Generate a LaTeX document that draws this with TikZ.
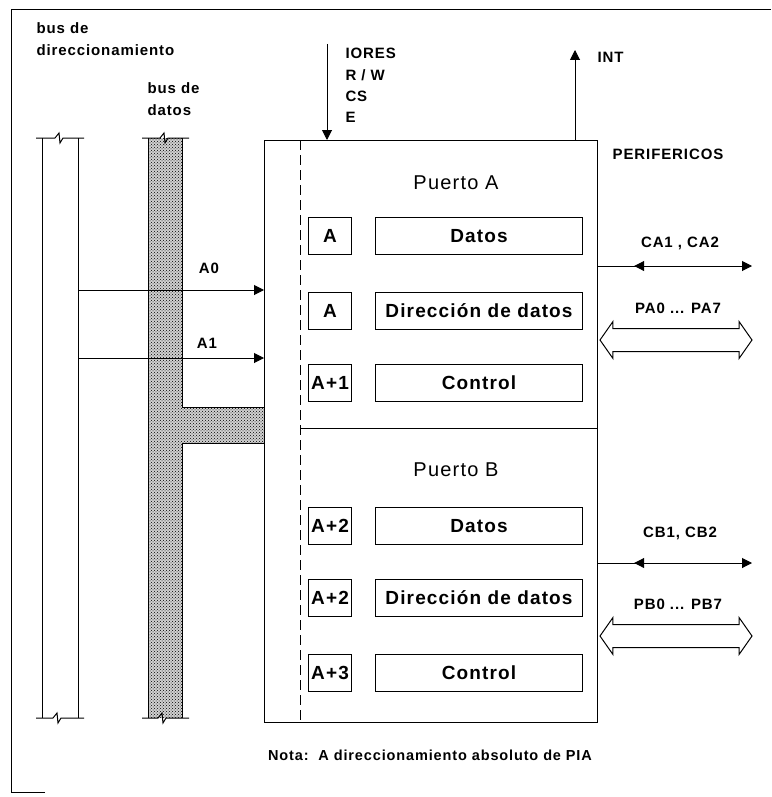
\documentclass[tikz,border=0pt]{standalone}
\usepackage{fontspec}
\setmainfont{Liberation Sans}
\newfontfamily\scanfont[LetterSpace=6]{Liberation Sans}
\usetikzlibrary{arrows.meta,patterns,shapes.arrows,decorations.markings,positioning}

\tikzset{
  regbox/.style={draw, minimum width=43, minimum height=37, inner sep=0, font=\scanfont\bfseries\fontsize{19}{19}\selectfont},
  databox/.style={draw, minimum width=207, minimum height=37, inner sep=0, font=\scanfont\bfseries\fontsize{19}{19}\selectfont},
  lbl/.style={inner sep=0, font=\scanfont\bfseries\fontsize{15}{22}\selectfont},
  portbus/.style={double arrow, draw, minimum height=152, inner xsep=0, inner ysep=11, double arrow head extend=7, double arrow tip angle=110},
  sigline/.style={-{Triangle[length=10,width=10]}, postaction={decorate},
    decoration={markings, mark=at position 0.3 with {\arrow{Triangle[reversed,length=10,width=10]}}}},
}
% break mark on a bus end
\newcommand\busbreak[4]{\draw (#1,#3) -- (#4-3,#3) -- (#4+1,#3-5) -- (#4+2,#3+5) -- (#4+5,#3) -- (#2,#3);}

\begin{document}
\begin{tikzpicture}[x=1pt, y=-1pt, line width=1pt, >={Triangle[length=10,width=10]}]
  \useasboundingbox (0,0) rectangle (771,797);
  % frame
  \draw (45,792) -- (11,792) -- (11,10) -- (771,10);
  \node[lbl, anchor=north west, align=left] (busdir) at (36,22) {bus de\\direccionamiento};
  \node[lbl, anchor=north west, align=left] (busdat) at (147,82) {bus de\\datos};
  % address bus
  \draw (42,138) -- (42,718); \draw (78,138) -- (78,718);
  \busbreak{36}{84}{138}{58}
  \busbreak{36}{84}{718}{56}
  % data bus
  \fill[black!18] (148,138) rectangle (182,718) (182,407) rectangle (264,443);
  \fill[pattern=crosshatch dots, pattern color=black] (148,138) rectangle (182,718) (182,407) rectangle (264,443);
  \draw (148,138) -- (148,718);
  \draw (182,138) -- (182,407) -- (264,407);
  \draw (264,443) -- (182,443) -- (182,718);
  \busbreak{142}{189}{138}{163}
  \busbreak{142}{189}{718}{161}
  % PIA
  \node[draw, minimum width=333, minimum height=582, anchor=north west, inner sep=0] (pia) at (264,140) {};
  \draw[dash pattern=on 10pt off 5pt] ([xshift=36]pia.north west) -- ([xshift=36]pia.south west);
  \draw ([xshift=36]pia.west |- 0,428) -- (pia.east |- 0,428);
  \node[font=\scanfont\fontsize{20}{20}\selectfont] (porta) at (456,183) {Puerto A};
  \node[font=\scanfont\fontsize{20}{20}\selectfont] (portb) at (456,470) {Puerto B};
  \foreach \y/\adr/\reg/\nm in {236/A/Datos/ra1, 311/A/Dirección de datos/ra2, 383/A+1/Control/ra3,
      526/A+2/Datos/rb1, 598/A+2/Dirección de datos/rb2, 673/A+3/Control/rb3} {
    \node[regbox] (\nm-adr) at (330,\y) {\adr};
    \node[databox, right=23pt of \nm-adr] (\nm-reg) {\reg};
  }
  % address lines
  \coordinate (a0) at (78,290); \coordinate (a1) at (78,358);
  \draw[->] (a0) -- (a0 -| pia.west);
  \draw[->] (a1) -- (a1 -| pia.west);
  \node[lbl] (a0-lbl) at (209,268) {A0};
  \node[lbl] (a1-lbl) at (207,343) {A1};
  % control lines
  \coordinate (ctl) at (327,44); \coordinate (int) at (575,50);
  \draw[->] (ctl) -- (ctl |- pia.north);
  \draw[->] (int |- pia.north) -- (int);
  \node[lbl, anchor=west] (iores) at (345,53) {IORES};
  \node[lbl, anchor=west] (rw) at (345,75) {R / W};
  \node[lbl, anchor=west] (cs) at (345,96) {CS};
  \node[lbl, anchor=west] (en) at (345,117) {E};
  \node[lbl, anchor=west] (int-lbl) at (597,57) {INT};
  % periferia
  \node[lbl] (perif) at (668,154) {PERIFERICOS};
  \coordinate (ca) at (752,266); \coordinate (cb) at (752,563);
  \draw[sigline] (ca -| pia.east) -- (ca);
  \draw[sigline] (cb -| pia.east) -- (cb);
  \node[lbl] (ca-lbl) at (680,243) {CA1 , CA2};
  \node[lbl] (cb-lbl) at (680,533) {CB1, CB2};
  \node[portbus] (pa) at (676,340) {};
  \node[portbus] (pb) at (676,636) {};
  \node[lbl] (pa-lbl) at (678,308) {PA0 ... PA7};
  \node[lbl] (pb-lbl) at (678,604) {PB0 ... PB7};
  \node[lbl, font=\scanfont\bfseries\fontsize{14.5}{16}\selectfont] (nota) at (430,755) {Nota:\ \ A direccionamiento absoluto de PIA};
\end{tikzpicture}
\end{document}
